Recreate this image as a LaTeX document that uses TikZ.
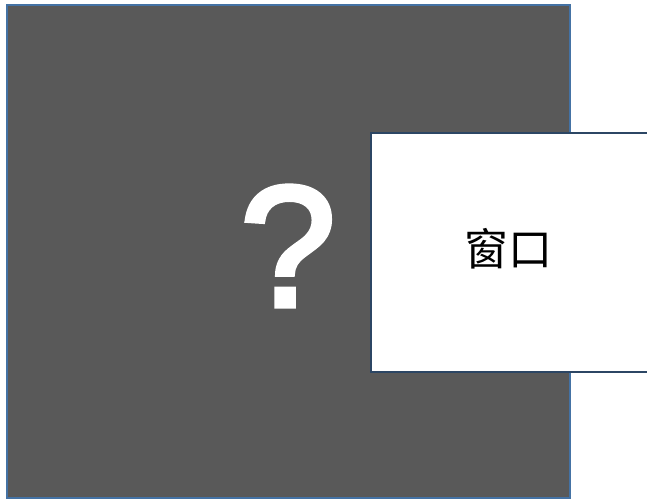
\documentclass[tikz,border=0pt]{standalone}
\usepackage{fontspec}
\setmainfont{Liberation Sans}
\newfontfamily\qfont[FakeBold=3]{Liberation Sans}
\newfontfamily\cjk{Noto Sans CJK SC}
\definecolor{darkfill}{HTML}{595959}
\definecolor{blueedge}{HTML}{4472A4}
\definecolor{navyedge}{HTML}{2C4664}
\tikzset{
  unknownbox/.style={draw=blueedge, line width=2.4pt, fill=darkfill},
  windowbox/.style={draw=navyedge, line width=2.4pt, fill=white},
}
\begin{document}
\begin{tikzpicture}[x=1pt,y=-1pt]
\useasboundingbox (0,0) rectangle (647,501);
\begin{scope}
\clip (0,0) rectangle (647,501);
\draw[unknownbox] (7,5) rectangle (570,498);
\draw[windowbox] (371,133) rectangle (660,372);
\end{scope}
\node[text=white, font=\qfont\fontsize{172}{172}\selectfont, inner sep=0pt] (q) at (288,246) {?};
\node[text=black, font=\cjk\fontsize{44}{44}\selectfont, inner sep=0pt] (w) at (508,249) {窗口};
\end{tikzpicture}
\end{document}
